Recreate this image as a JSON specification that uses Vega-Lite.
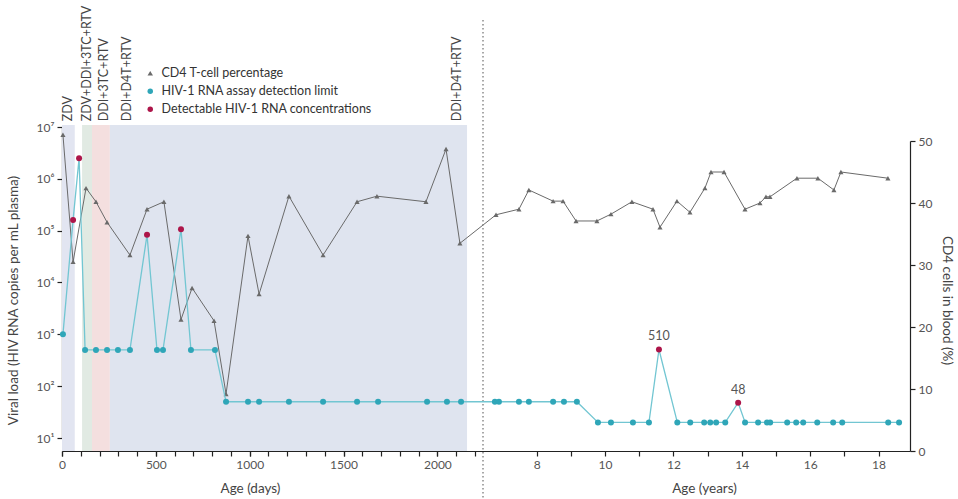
{
  "$schema": "https://vega.github.io/schema/vega-lite/v6.json",
  "width": 848,
  "height": 326,
  "autosize": {"type": "none"},
  "padding": {"left": 62, "top": 125, "right": 48, "bottom": 48},
  "background": "white",
  "datasets": {
    "regimens": [
      {"regimen": "ZDV", "start": 0, "end": 68},
      {"regimen": "ZDV+DDI+3TC+RTV", "start": 107, "end": 160},
      {"regimen": "DDI+3TC+RTV", "start": 160, "end": 255},
      {"regimen": "DDI+D4T+RTV", "start": 255, "end": 2158}
    ],
    "labels": [
      {"label": "ZDV", "days": 32},
      {"label": "ZDV+DDI+3TC+RTV", "days": 134},
      {"label": "DDI+3TC+RTV", "days": 224},
      {"label": "DDI+D4T+RTV", "days": 348},
      {"label": "DDI+D4T+RTV", "days": 2104}
    ],
    "cd4": [
      {"days": 5, "cd4": 51}, {"days": 59, "cd4": 30.5}, {"days": 128, "cd4": 42.4}, {"days": 181, "cd4": 40.2},
      {"days": 240, "cd4": 36.9}, {"days": 362, "cd4": 31.6}, {"days": 453, "cd4": 39.0}, {"days": 543, "cd4": 40.2},
      {"days": 634, "cd4": 21.2}, {"days": 693, "cd4": 26.3}, {"days": 810, "cd4": 21.0}, {"days": 874, "cd4": 9.2},
      {"days": 991, "cd4": 34.7}, {"days": 1050, "cd4": 25.3}, {"days": 1209, "cd4": 41.1}, {"days": 1391, "cd4": 31.6},
      {"days": 1572, "cd4": 40.2}, {"days": 1678, "cd4": 41.1}, {"days": 1939, "cd4": 40.2}, {"days": 2046, "cd4": 48.7},
      {"days": 2120, "cd4": 33.5}, {"days": 2488, "cd4": 38.1}, {"days": 2733, "cd4": 39.0}, {"days": 2839, "cd4": 42.1},
      {"days": 3098, "cd4": 40.3}, {"days": 3204, "cd4": 40.3}, {"days": 3343, "cd4": 37.1}, {"days": 3566, "cd4": 37.1},
      {"days": 3716, "cd4": 38.2}, {"days": 3940, "cd4": 40.2}, {"days": 4165, "cd4": 39.0}, {"days": 4240, "cd4": 36.1},
      {"days": 4421, "cd4": 40.3}, {"days": 4560, "cd4": 38.5}, {"days": 4720, "cd4": 42.4}, {"days": 4785, "cd4": 45.0},
      {"days": 4924, "cd4": 45.0}, {"days": 5148, "cd4": 39.0}, {"days": 5308, "cd4": 40.0}, {"days": 5372, "cd4": 41.0},
      {"days": 5415, "cd4": 41.0}, {"days": 5703, "cd4": 44.0}, {"days": 5927, "cd4": 44.0}, {"days": 6098, "cd4": 42.1},
      {"days": 6173, "cd4": 45.0}, {"days": 6675, "cd4": 44.0}
    ],
    "vl": [
      {"days": 5, "vl": 1000, "status": "HIV-1 RNA assay detection limit"},
      {"days": 59, "vl": 160000, "status": "Detectable HIV-1 RNA concentrations"},
      {"days": 91, "vl": 2500000, "status": "Detectable HIV-1 RNA concentrations"},
      {"days": 123, "vl": 500, "status": "HIV-1 RNA assay detection limit"},
      {"days": 181, "vl": 500, "status": "HIV-1 RNA assay detection limit"},
      {"days": 240, "vl": 500, "status": "HIV-1 RNA assay detection limit"},
      {"days": 298, "vl": 500, "status": "HIV-1 RNA assay detection limit"},
      {"days": 362, "vl": 500, "status": "HIV-1 RNA assay detection limit"},
      {"days": 453, "vl": 83000, "status": "Detectable HIV-1 RNA concentrations"},
      {"days": 506, "vl": 500, "status": "HIV-1 RNA assay detection limit"},
      {"days": 538, "vl": 500, "status": "HIV-1 RNA assay detection limit"},
      {"days": 634, "vl": 107000, "status": "Detectable HIV-1 RNA concentrations"},
      {"days": 687, "vl": 500, "status": "HIV-1 RNA assay detection limit"},
      {"days": 815, "vl": 500, "status": "HIV-1 RNA assay detection limit"},
      {"days": 874, "vl": 50, "status": "HIV-1 RNA assay detection limit"},
      {"days": 991, "vl": 50, "status": "HIV-1 RNA assay detection limit"},
      {"days": 1050, "vl": 50, "status": "HIV-1 RNA assay detection limit"},
      {"days": 1209, "vl": 50, "status": "HIV-1 RNA assay detection limit"},
      {"days": 1391, "vl": 50, "status": "HIV-1 RNA assay detection limit"},
      {"days": 1572, "vl": 50, "status": "HIV-1 RNA assay detection limit"},
      {"days": 1684, "vl": 50, "status": "HIV-1 RNA assay detection limit"},
      {"days": 1945, "vl": 50, "status": "HIV-1 RNA assay detection limit"},
      {"days": 2051, "vl": 50, "status": "HIV-1 RNA assay detection limit"},
      {"days": 2126, "vl": 50, "status": "HIV-1 RNA assay detection limit"},
      {"days": 2476, "vl": 50, "status": "HIV-1 RNA assay detection limit"},
      {"days": 2519, "vl": 50, "status": "HIV-1 RNA assay detection limit"},
      {"days": 2733, "vl": 50, "status": "HIV-1 RNA assay detection limit"},
      {"days": 2839, "vl": 50, "status": "HIV-1 RNA assay detection limit"},
      {"days": 3098, "vl": 50, "status": "HIV-1 RNA assay detection limit"},
      {"days": 3214, "vl": 50, "status": "HIV-1 RNA assay detection limit"},
      {"days": 3352, "vl": 50, "status": "HIV-1 RNA assay detection limit"},
      {"days": 3577, "vl": 20, "status": "HIV-1 RNA assay detection limit"},
      {"days": 3716, "vl": 20, "status": "HIV-1 RNA assay detection limit"},
      {"days": 3951, "vl": 20, "status": "HIV-1 RNA assay detection limit"},
      {"days": 4122, "vl": 20, "status": "HIV-1 RNA assay detection limit"},
      {"days": 4229, "vl": 510, "status": "Detectable HIV-1 RNA concentrations", "note": "510"},
      {"days": 4425, "vl": 20, "status": "HIV-1 RNA assay detection limit"},
      {"days": 4563, "vl": 20, "status": "HIV-1 RNA assay detection limit"},
      {"days": 4712, "vl": 20, "status": "HIV-1 RNA assay detection limit"},
      {"days": 4777, "vl": 20, "status": "HIV-1 RNA assay detection limit"},
      {"days": 4840, "vl": 20, "status": "HIV-1 RNA assay detection limit"},
      {"days": 4937, "vl": 20, "status": "HIV-1 RNA assay detection limit"},
      {"days": 5075, "vl": 48, "status": "Detectable HIV-1 RNA concentrations", "note": "48"},
      {"days": 5149, "vl": 20, "status": "HIV-1 RNA assay detection limit"},
      {"days": 5288, "vl": 20, "status": "HIV-1 RNA assay detection limit"},
      {"days": 5383, "vl": 20, "status": "HIV-1 RNA assay detection limit"},
      {"days": 5417, "vl": 20, "status": "HIV-1 RNA assay detection limit"},
      {"days": 5599, "vl": 20, "status": "HIV-1 RNA assay detection limit"},
      {"days": 5695, "vl": 20, "status": "HIV-1 RNA assay detection limit"},
      {"days": 5770, "vl": 20, "status": "HIV-1 RNA assay detection limit"},
      {"days": 5920, "vl": 20, "status": "HIV-1 RNA assay detection limit"},
      {"days": 6090, "vl": 20, "status": "HIV-1 RNA assay detection limit"},
      {"days": 6187, "vl": 20, "status": "HIV-1 RNA assay detection limit"},
      {"days": 6678, "vl": 20, "status": "HIV-1 RNA assay detection limit"},
      {"days": 6794, "vl": 20, "status": "HIV-1 RNA assay detection limit"}
    ]
  },
  "layer": [
    {
      "data": {"name": "regimens"},
      "mark": {"type": "rect"},
      "encoding": {
        "x": {"field": "start", "type": "quantitative",
              "scale": {"type": "linear", "domain": [0, 2243, 2349, 6911], "range": [0, 421, 421, 848], "nice": false, "zero": false},
              "axis": {"orient": "bottom", "values": [0, 100, 200, 300, 400, 500, 600, 700, 800, 900, 1000, 1100, 1200, 1300, 1400, 1500, 1600, 1700, 1800, 1900, 2000, 2100, 2200],
                       "labels": false, "title": null, "domain": true}},
        "x2": {"field": "end"},
        "fill": {"field": "regimen", "type": "nominal", "legend": null,
                 "scale": {"domain": ["ZDV", "ZDV+DDI+3TC+RTV", "DDI+3TC+RTV", "DDI+D4T+RTV"], "range": ["#e2e5f1", "#e1eae3", "#f4dfdf", "#dfe4ef"]}}
      }
    },
    {
      "layer": [
        {
          "data": {"name": "cd4"},
          "mark": {"type": "line", "color": "#6a6a6a", "strokeWidth": 1},
          "encoding": {
            "x": {"field": "days", "type": "quantitative",
                  "scale": {"type": "linear", "domain": [0, 2243, 2349, 6911], "range": [0, 421, 421, 848], "nice": false, "zero": false},
                  "axis": {"orient": "bottom", "domain": false, "values": [0, 500, 1000, 1500, 2000], "format": "d",
                           "title": "Age (days)", "titleX": 188, "titleY": 37, "titleBaseline": "middle", "titleAlign": "center", "titleAngle": 0}},
            "y": {"field": "cd4", "type": "quantitative",
                  "scale": {"domain": [0, 50], "range": [326, 16], "nice": false, "zero": true},
                  "axis": {"orient": "right", "values": [0, 10, 20, 30, 40, 50], "title": "CD4 cells in blood (%)", "titleX": 36, "titleY": 175, "titleAngle": 90, "titleAlign": "center", "titleBaseline": "middle"}}
          }
        },
        {
          "data": {"name": "cd4"},
          "mark": {"type": "point", "filled": true, "opacity": 1, "size": 26},
          "encoding": {
            "x": {"field": "days", "type": "quantitative"},
            "y": {"field": "cd4", "type": "quantitative"},
            "color": {"datum": "CD4 T-cell percentage", "type": "nominal", "title": null},
            "shape": {"datum": "CD4 T-cell percentage", "type": "nominal", "title": null}
          }
        },
        {
          "data": {"values": [{}]},
          "mark": {"type": "rule", "color": "#7a7a7a", "strokeWidth": 1.3, "strokeDash": [1.5, 2.5]},
          "encoding": {
            "x": {"datum": 2296, "type": "quantitative"},
            "y": {"datum": 69.5, "type": "quantitative"},
            "y2": {"datum": -7.7}
          }
        },
        {
          "data": {"name": "labels"},
          "mark": {"type": "text", "angle": 270, "align": "left", "baseline": "middle", "fontSize": 12.5, "color": "#444"},
          "encoding": {
            "x": {"field": "days", "type": "quantitative"},
            "y": {"datum": 53.2, "type": "quantitative"},
            "text": {"field": "label"}
          }
        }
      ]
    },
    {
      "data": {"name": "vl"},
      "layer": [
        {
          "mark": {"type": "line", "color": "#72c6d2", "strokeWidth": 1.3},
          "encoding": {
            "x": {"field": "days", "type": "quantitative",
                  "scale": {"type": "linear", "domain": [0, 2243, 2349, 6911], "range": [0, 421, 421, 848], "nice": false, "zero": false},
                  "axis": {"orient": "bottom", "domain": false, "values": [2922, 3287.25, 3652.5, 4017.75, 4383, 4748.25, 5113.5, 5478.75, 5844, 6209.25, 6574.5],
                           "labelExpr": "round(datum.value / 365.25) % 2 == 0 ? '' + round(datum.value / 365.25) : ''",
                           "title": "Age (years)", "titleX": 642, "titleY": 37, "titleBaseline": "middle", "titleAlign": "center", "titleAngle": 0}},
            "y": {"field": "vl", "type": "quantitative",
                  "scale": {"type": "log", "domain": [10, 10000000], "range": [313, 2], "nice": false},
                  "axis": {"orient": "left", "values": [10, 100, 1000, 10000, 100000, 1000000, 10000000],
                           "labelExpr": "'10' + ['⁰','¹','²','³','⁴','⁵','⁶','⁷'][round(log(datum.value) / LN10)]",
                           "title": "Viral load (HIV RNA copies per mL plasma)", "titleX": -49, "titleY": 175, "titleAngle": 270, "titleAlign": "center", "titleBaseline": "middle"}}
          }
        },
        {
          "mark": {"type": "point", "filled": true, "opacity": 1, "size": 36},
          "encoding": {
            "x": {"field": "days", "type": "quantitative"},
            "y": {"field": "vl", "type": "quantitative"},
            "color": {"field": "status", "type": "nominal", "title": null,
                      "scale": {"domain": ["CD4 T-cell percentage", "HIV-1 RNA assay detection limit", "Detectable HIV-1 RNA concentrations"], "range": ["#6a6a6a", "#2fa6b8", "#ad1549"]},
                      "legend": {"orient": "none", "legendX": 82, "legendY": -58, "direction": "vertical", "title": null, "labelLimit": 400}},
            "shape": {"field": "status", "type": "nominal", "title": null,
                      "scale": {"domain": ["CD4 T-cell percentage", "HIV-1 RNA assay detection limit", "Detectable HIV-1 RNA concentrations"], "range": ["triangle-up", "circle", "circle"]},
                      "legend": {"orient": "none", "legendX": 82, "legendY": -58, "direction": "vertical", "title": null, "labelLimit": 400}}
          }
        },
        {
          "transform": [{"filter": "datum.note != null"}],
          "mark": {"type": "text", "baseline": "bottom", "align": "center", "dy": -6, "fontSize": 12.5, "color": "#555"},
          "encoding": {
            "x": {"field": "days", "type": "quantitative"},
            "y": {"field": "vl", "type": "quantitative"},
            "text": {"field": "note"}
          }
        }
      ]
    }
  ],
  "resolve": {"scale": {"y": "independent"}, "axis": {"x": "independent", "y": "independent"}},
  "config": {
    "view": {"stroke": null},
    "font": "Lato",
    "axis": {"grid": false, "labelFont": "Lato", "titleFont": "Lato", "labelFontSize": 12, "titleFontSize": 13.5, "labelColor": "#555", "titleColor": "#444",
             "titleFontWeight": "normal", "domainColor": "#222", "tickColor": "#222", "tickSize": 5, "labelPadding": 3, "domainWidth": 1.2, "tickWidth": 1.2,
             "labelOverlap": false, "labelFlush": false},
    "legend": {"labelFont": "Lato", "labelFontSize": 12.5, "labelColor": "#333", "symbolSize": 30, "rowPadding": 5, "labelOffset": 5, "padding": 0, "symbolStrokeWidth": 0, "labelLimit": 400},
    "text": {"font": "Lato"}
  }
}
